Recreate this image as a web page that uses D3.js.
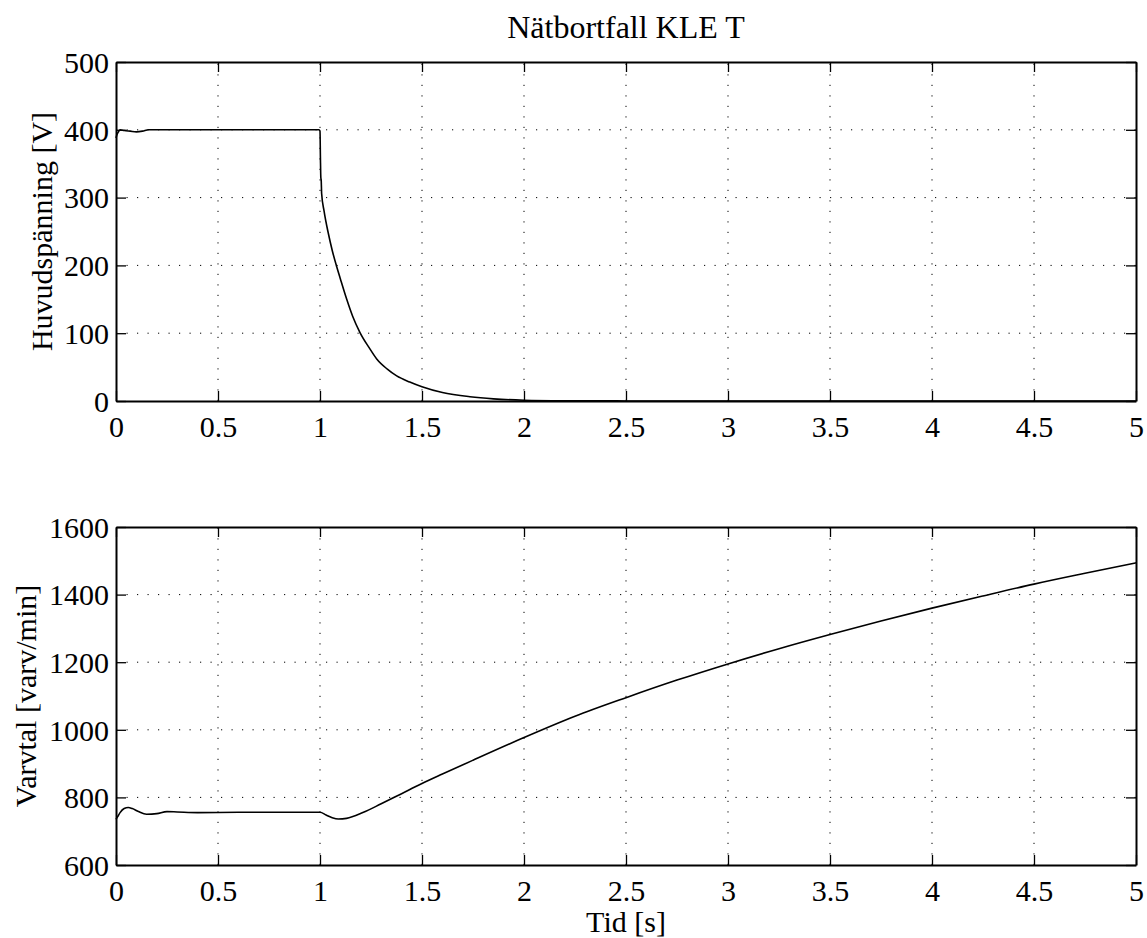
<!DOCTYPE html>
<html><head><meta charset="utf-8">
<script src="https://cdn.jsdelivr.net/npm/d3@7"></script>
<style>
html,body{margin:0;padding:0;background:#fff;}
svg text{font-family:"Liberation Serif","Times New Roman",serif;fill:#000;}
</style></head>
<body>
<script>
// ---- data ----
const titleText = "Nätbortfall KLE T";
const xLabel = "Tid [s]";
const topYLabel = "Huvudspänning [V]";
const botYLabel = "Varvtal [varv/min]";

const xTicks = [0,0.5,1,1.5,2,2.5,3,3.5,4,4.5,5];
const topYTicks = [0,100,200,300,400,500];
const botYTicks = [600,800,1000,1200,1400,1600];

// voltage series
const voltT = [0,0.005,0.012,0.02,0.04,0.07,0.1,0.13,0.16,0.2,0.3,0.4,0.5,0.6,0.7,0.8,0.9,0.995,1.0,1.002,1.004,1.006,1.008,1.02,1.041,1.06,1.082,1.1,1.131,1.16,1.196,1.24,1.278,1.33,1.376,1.44,1.5,1.6,1.735,1.85,2.0,2.2,2.5,3,4,5];
const voltV = [388,393,397,400,399,398,397,398,400,400,400,400,400,400,400,400,400,400,398,360,330,325,306,280,247,222,198,180,150,125,101,79,62,47,37,28,21,12.5,6.3,3.2,1.2,0.4,0.1,0,0,0];

// speed series
const speedT = [0,0.01,0.02,0.04,0.06,0.08,0.11,0.15,0.2,0.25,0.3,0.4,0.6,0.8,1.0,1.03,1.06,1.09,1.13,1.21,1.3,1.4,1.5,1.6,1.75,2.0,2.25,2.5,2.75,3.0,3.25,3.5,3.75,4.0,4.25,4.5,4.75,5.0];
const speedV = [735,745,755,767,770,767,758,750,752,758,757,755,756,756,756,748,740,736,738,755,781,811,841,869,910,977,1040,1095,1147,1195,1240,1282,1322,1360,1396,1431,1463,1494];

// ---- layout ----
const W = 1147, H = 938;
const left = 116, right = 1136;
const topPanel = {y0: 62, y1: 401, domain:[0,500], ticks: topYTicks, label: topYLabel, t: voltT, v: voltV, lx: 52};
const botPanel = {y0: 527, y1: 865, domain:[600,1600], ticks: botYTicks, label: botYLabel, t: speedT, v: speedV, lx: 36};
const FS = 30;

const svg = d3.select("body").append("svg").attr("width", W).attr("height", H);
svg.append("rect").attr("width", W).attr("height", H).attr("fill", "#fff");

const x = d3.scaleLinear().domain([0,5]).range([left,right]);

function drawPanel(p){
  const y = d3.scaleLinear().domain(p.domain).range([p.y1,p.y0]);
  const g = svg.append("g");
  // grid
  const grid = g.append("g").attr("stroke","#000").attr("stroke-width",1).attr("stroke-dasharray","1.2,9.3").attr("fill","none");
  xTicks.slice(1,-1).forEach(t=>{
    grid.append("line").attr("x1",x(t)).attr("x2",x(t)).attr("y1",p.y1).attr("y2",p.y0);
  });
  p.ticks.slice(1,-1).forEach(t=>{
    grid.append("line").attr("x1",left).attr("x2",right).attr("y1",y(t)).attr("y2",y(t));
  });
  // data
  const line = d3.line().x((d,i)=>x(p.t[i])).y(d=>y(d)).curve(d3.curveMonotoneX);
  g.append("path").datum(p.v).attr("d",line).attr("fill","none").attr("stroke","#000").attr("stroke-width",1.6);
  // axes via d3 axes (inward ticks on all four sides)
  const fmt = d3.format("~g");
  const axB = g.append("g").attr("transform",`translate(0,${p.y1})`)
     .call(d3.axisBottom(x).tickValues(xTicks).tickFormat(fmt).tickSizeInner(-10).tickSizeOuter(0).tickPadding(0));
  const axT = g.append("g").attr("transform",`translate(0,${p.y0})`)
     .call(d3.axisTop(x).tickValues(xTicks).tickFormat("").tickSizeInner(-10).tickSizeOuter(0));
  const axL = g.append("g").attr("transform",`translate(${left},0)`)
     .call(d3.axisLeft(y).tickValues(p.ticks).tickFormat(fmt).tickSizeInner(-10).tickSizeOuter(0).tickPadding(0));
  const axR = g.append("g").attr("transform",`translate(${right},0)`)
     .call(d3.axisRight(y).tickValues(p.ticks).tickFormat("").tickSizeInner(-10).tickSizeOuter(0));
  [axB,axT,axL,axR].forEach(a=>{
    a.select(".domain").attr("stroke","#000").attr("stroke-width",2);
    a.selectAll(".tick line").attr("stroke","#000").attr("stroke-width",1.3);
  });
  axB.selectAll(".tick text").attr("font-size",FS).attr("font-family","Liberation Serif")
     .attr("y",36).attr("dy",null);
  axL.selectAll(".tick text").attr("font-size",FS).attr("font-family","Liberation Serif")
     .attr("x",-7).attr("dy","0.34em");
  // y label
  svg.append("text").attr("transform",`translate(${p.lx},${(p.y0+p.y1)/2}) rotate(-90)`)
     .attr("text-anchor","middle").attr("font-size",FS).text(p.label);
}
drawPanel(topPanel);
drawPanel(botPanel);

svg.append("text").attr("x",(left+right)/2).attr("y",38).attr("text-anchor","middle").attr("font-size",32).text(titleText);
svg.append("text").attr("x",(left+right)/2).attr("y",932).attr("text-anchor","middle").attr("font-size",FS).text(xLabel);
</script>
</body></html>
